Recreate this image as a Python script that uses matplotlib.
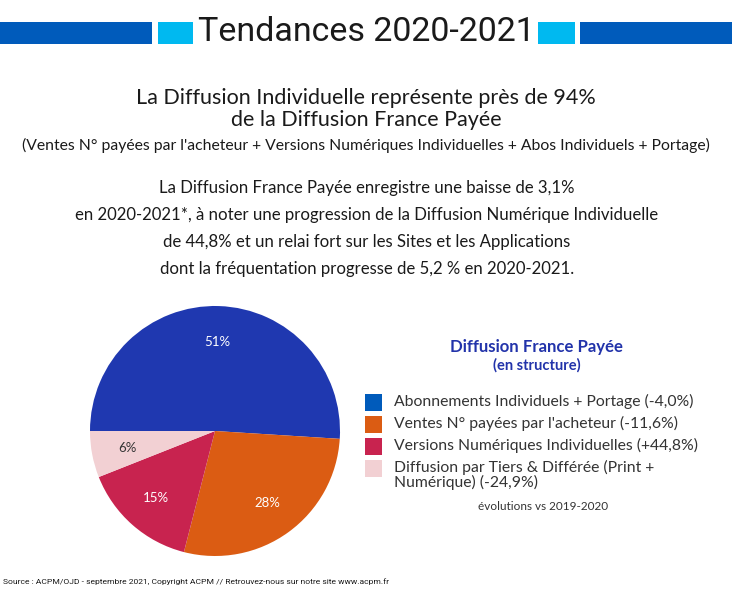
import matplotlib.pyplot as plt
from matplotlib.patches import Rectangle

W, H = 732, 600

shares = [51, 28, 15, 6]
pie_colors = ['#1f38b0', '#db5c13', '#c8234f', '#f2d0d3']
label_colors = ['white', 'white', 'white', '#333333']

legend_labels = [
    'Abonnements Individuels + Portage (-4,0%)',
    "Ventes N° payées par l'acheteur (-11,6%)",
    'Versions Numériques Individuelles (+44,8%)',
    'Diffusion par Tiers & Différée (Print +\nNumérique) (-24,9%)',
]
legend_colors = ['#005bbb', '#db5c13', '#c8234f', '#f2d0d3']

paragraph = [
    'La Diffusion France Payée enregistre une baisse de 3,1%',
    'en 2020-2021*, à noter une progression de la Diffusion Numérique Individuelle',
    'de 44,8% et un relai fort sur les Sites et les Applications',
    'dont la fréquentation progresse de 5,2 % en 2020-2021.',
]

plt.rcParams['font.family'] = ['Lato', 'DejaVu Sans']


def fx(x):
    return x / W


def fy(y):
    return 1 - y / H


fig = plt.figure(figsize=(W / 100, H / 100), dpi=100)

# header band
for x0, x1, c in [(0, 152, '#005bbb'), (158, 193, '#00b9f0'),
                  (538, 575, '#00b9f0'), (580, 732, '#005bbb')]:
    fig.patches.append(Rectangle((fx(x0), fy(44)), fx(x1 - x0), 22 / H,
                                 transform=fig.transFigure, color=c, lw=0))
fig.text(fx(366), fy(32), 'Tendances 2020-2021', family='Roboto', fontsize=24.5,
         color='#1a1a1a', ha='center', va='center')

fig.text(fx(366), fy(98), 'La Diffusion Individuelle représente près de 94%',
         fontsize=15.5, color='#1a1a1a', ha='center', va='center')
fig.text(fx(366), fy(120), 'de la Diffusion France Payée',
         fontsize=15.5, color='#1a1a1a', ha='center', va='center')
fig.text(fx(366), fy(145),
         "(Ventes N° payées par l'acheteur + Versions Numériques Individuelles"
         " + Abos Individuels + Portage)",
         fontsize=11.3, color='#1a1a1a', ha='center', va='center')
for i, line in enumerate(paragraph):
    fig.text(fx(367), fy(188 + 27 * i), line, fontsize=12.1, color='#1a1a1a',
             ha='center', va='center')

# pie
ax = fig.add_axes([fx(90), fy(556), 250 / W, 250 / H])
wedges, _, autotexts = ax.pie(shares, colors=pie_colors, startangle=180,
                              counterclock=False, autopct='%d%%',
                              pctdistance=0.71,
                              wedgeprops=dict(linewidth=0))
for t, c in zip(autotexts, label_colors):
    t.set_color(c)
    t.set_fontsize(9.5)
ax.set_xlim(-1, 1)
ax.set_ylim(-1, 1)
ax.set_aspect('equal')

# legend
fig.text(fx(536), fy(347), 'Diffusion France Payée', fontsize=12.1,
         fontweight='bold', color='#2233aa', ha='center', va='center')
fig.text(fx(537), fy(365), '(en structure)', fontsize=10.5,
         fontweight='bold', color='#2233aa', ha='center', va='center')
ys = [403, 425, 447, 469]
for y, lab, c in zip(ys, legend_labels, legend_colors):
    fig.patches.append(Rectangle((fx(365), fy(y + 8)), 17 / W, 17 / H,
                                 transform=fig.transFigure, color=c, lw=0))
    fig.text(fx(394), fy(y - 9), lab, fontsize=11.3, color='#333333',
             ha='left', va='top', linespacing=0.95)
fig.text(fx(543), fy(507), 'évolutions vs 2019-2020', fontsize=8.5,
         color='#333333', ha='center', va='center')

fig.text(fx(3), fy(582), 'Source : ACPM/OJD - septembre 2021, Copyright ACPM'
         ' // Retrouvez-nous sur notre site www.acpm.fr', family='Roboto',
         fontsize=6.1, color='#1a1a1a', ha='left', va='center')

fig.savefig('out.png', dpi=100, facecolor='white')
